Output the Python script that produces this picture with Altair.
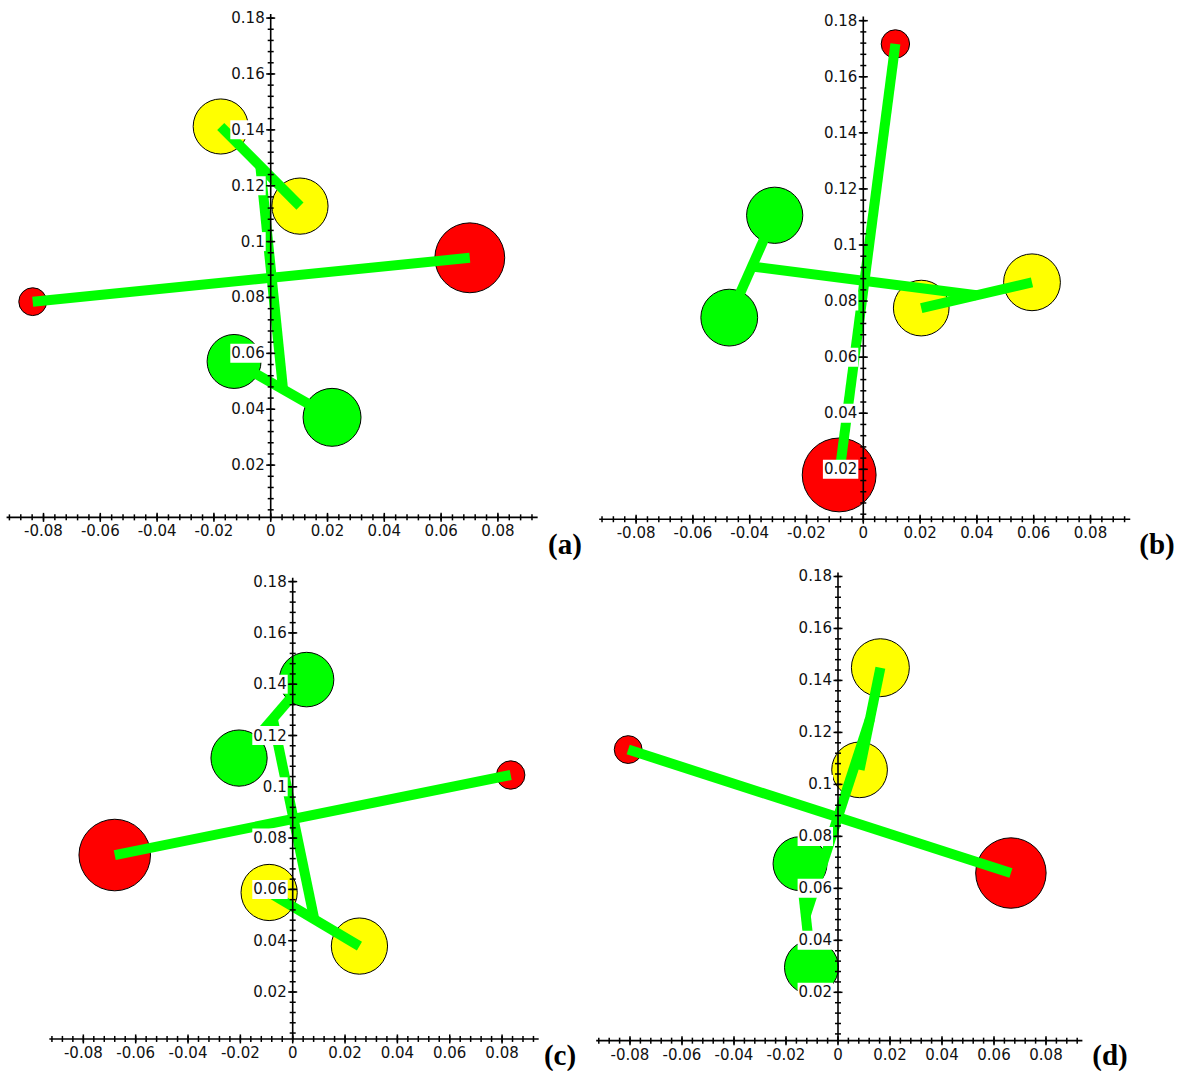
import altair as alt
import pandas as pd

# ---------------- data ----------------
# each panel: six atoms -> [red pair], [pair A], [pair B]
A_cat = ["red", "red", "yellow", "yellow", "green", "green"]
A_x = [-0.0838, 0.0701, -0.0176, 0.0103, -0.0129, 0.0216]
A_y = [0.0785, 0.0942, 0.1412, 0.1127, 0.0571, 0.0371]
A_r = [0.0049, 0.0123, 0.0097, 0.0099, 0.0095, 0.0102]

B_cat = ["red", "red", "green", "green", "yellow", "yellow"]
B_x = [0.0113, -0.0085, -0.0312, -0.0472, 0.0204, 0.0594]
B_y = [0.1717, 0.0180, 0.1106, 0.0741, 0.0775, 0.0867]
B_r = [0.0050, 0.0130, 0.0099, 0.0100, 0.0098, 0.0100]

C_cat = ["red", "red", "green", "green", "yellow", "yellow"]
C_x = [-0.0680, 0.0833, 0.0053, -0.0205, -0.0090, 0.0255]
C_y = [0.0734, 0.1046, 0.1418, 0.1112, 0.0588, 0.0379]
C_r = [0.0126, 0.0050, 0.0096, 0.0099, 0.0099, 0.0099]

D_cat = ["red", "red", "yellow", "yellow", "green", "green"]
D_x = [-0.0807, 0.0665, 0.0163, 0.0083, -0.0146, -0.0102]
D_y = [0.1134, 0.0659, 0.1449, 0.1056, 0.0695, 0.0296]
D_r = [0.0049, 0.0124, 0.0102, 0.0098, 0.0095, 0.0095]

X_TICK_VALUES = [-0.08, -0.06, -0.04, -0.02, 0.0, 0.02, 0.04, 0.06, 0.08]
X_TICK_LABELS = ["-0.08", "-0.06", "-0.04", "-0.02", "0", "0.02", "0.04", "0.06", "0.08"]
Y_TICK_VALUES = [0.02, 0.04, 0.06, 0.08, 0.10, 0.12, 0.14, 0.16, 0.18]
Y_TICK_LABELS = ["0.02", "0.04", "0.06", "0.08", "0.1", "0.12", "0.14", "0.16", "0.18"]
MINOR_STEP = 0.004
X_AXIS_RANGE = [-0.093, 0.094]
Y_AXIS_TOP = 0.1815

COLORS = {"red": "#ff0000", "yellow": "#ffff00", "green": "#00ff00"}
BOND = "#00ff00"
LABEL_FONT = "DejaVu Sans"
LABEL_SIZE = 15


def text_width(s):
    w = 0.0
    for ch in s:
        w += 4.77 if ch == "." else (6.3 if ch == "-" else 9.54)
    return w


def panel(cat, xs, ys, rs, box, origin, k, axis_y, tag, tag_pos):
    left, top, W, H = box
    gx0, gy0 = origin
    kx, ky = k
    lx0, ly0 = gx0 - left, gy0 - top
    xdom = [(0 - lx0) / kx, (W - lx0) / kx]
    ydom = [(ly0 - H) / ky, ly0 / ky]

    def X(f):
        return alt.X(f, type="quantitative", scale=alt.Scale(domain=xdom, nice=False, zero=False), axis=None)

    def Y(f):
        return alt.Y(f, type="quantitative", scale=alt.Scale(domain=ydom, nice=False, zero=False), axis=None)

    atoms = pd.DataFrame({"x": xs, "y": ys, "r": rs, "cat": cat})

    def mid(i, j):
        return ((xs[i] + xs[j]) / 2, (ys[i] + ys[j]) / 2)

    ma, mb = mid(2, 3), mid(4, 5)
    seg = pd.DataFrame({
        "x": [xs[0], xs[2], xs[4], ma[0]],
        "y": [ys[0], ys[2], ys[4], ma[1]],
        "x2": [xs[1], xs[3], xs[5], mb[0]],
        "y2": [ys[1], ys[3], ys[5], mb[1]],
    })

    circles = alt.Chart(atoms).mark_circle(opacity=1, stroke="black", strokeWidth=1).encode(
        x=X("x"), y=Y("y"),
        size=alt.Size("r:Q", scale=alt.Scale(type="pow", exponent=2, domain=[0, 0.01],
                                             range=[0, (0.02 * kx) ** 2]), legend=None),
        color=alt.Color("cat:N", scale=alt.Scale(domain=list(COLORS.keys()),
                                                 range=list(COLORS.values())), legend=None),
    )
    bonds = alt.Chart(seg).mark_rule(color=BOND, strokeWidth=10, strokeCap="butt").encode(
        x=X("x"), y=Y("y"), x2="x2:Q", y2="y2:Q"
    )

    # white boxes behind the y tick labels
    paths = []
    for s in Y_TICK_LABELS:
        w = text_width(s)
        l, r = -(6 + w + 1), -5
        paths.append(f"M{l:.1f},-9.5L{r},-9.5L{r},9.5L{l:.1f},9.5Z")
    ylab = pd.DataFrame({"x": [0.0] * len(Y_TICK_VALUES), "y": Y_TICK_VALUES,
                         "t": Y_TICK_LABELS, "p": paths})
    boxes = alt.Chart(ylab).mark_point(filled=True, color="white", opacity=1, size=4).encode(
        x=X("x"), y=Y("y"), shape=alt.Shape("p:N", scale=None, legend=None)
    )

    axes_df = pd.DataFrame({"x": [X_AXIS_RANGE[0], 0.0], "y": [axis_y, axis_y],
                            "x2": [X_AXIS_RANGE[1], 0.0], "y2": [axis_y, Y_AXIS_TOP]})
    axes = alt.Chart(axes_df).mark_rule(color="black", strokeWidth=1.6).encode(
        x=X("x"), y=Y("y"), x2="x2:Q", y2="y2:Q"
    )

    nx = int(round((0.092 - -0.092) / MINOR_STEP)) + 1
    xt = [round(-0.092 + i * MINOR_STEP, 4) for i in range(nx)]
    ny = int(round(0.18 / MINOR_STEP))
    yt = [round((i + 1) * MINOR_STEP, 4) for i in range(ny)]
    xmaj = pd.DataFrame({"x": X_TICK_VALUES, "y": [axis_y] * len(X_TICK_VALUES)})
    xmin_ = pd.DataFrame({"x": xt, "y": [axis_y] * len(xt)})
    ymaj = pd.DataFrame({"x": [0.0] * len(Y_TICK_VALUES), "y": Y_TICK_VALUES})
    ymin_ = pd.DataFrame({"x": [0.0] * len(yt), "y": yt})

    def xticks(df, half):
        return alt.Chart(df).mark_rule(color="black", strokeWidth=1.5, yOffset=-half, y2Offset=half).encode(
            x=X("x"), y=Y("y"), y2="y:Q")

    def yticks(df, half):
        return alt.Chart(df).mark_rule(color="black", strokeWidth=1.5, xOffset=-half, x2Offset=half).encode(
            x=X("x"), x2="x:Q", y=Y("y"))

    xlab_df = pd.DataFrame({"x": X_TICK_VALUES, "y": [axis_y] * len(X_TICK_VALUES), "t": X_TICK_LABELS})
    xlab = alt.Chart(xlab_df).mark_text(dy=14, font=LABEL_FONT, fontSize=LABEL_SIZE, color="#111",
                                        align="center", baseline="middle").encode(
        x=X("x"), y=Y("y"), text="t:N")
    ylabt = alt.Chart(ylab).mark_text(dx=-6, font=LABEL_FONT, fontSize=LABEL_SIZE, color="#111",
                                      align="right", baseline="middle").encode(
        x=X("x"), y=Y("y"), text="t:N")

    tag_df = pd.DataFrame({"t": [tag]})
    tagc = alt.Chart(tag_df).mark_text(font="Liberation Serif", fontWeight="bold", fontSize=29,
                                       color="black", align="center", baseline="middle").encode(
        x=alt.value(tag_pos[0] - left), y=alt.value(tag_pos[1] - top), text="t:N")

    return alt.layer(circles, bonds, boxes, axes, xticks(xmin_, 3), xticks(xmaj, 4.5),
                     yticks(ymin_, 3), yticks(ymaj, 4.5), xlab, ylabt, tagc).properties(width=W, height=H)


pa = panel(A_cat, A_x, A_y, A_r, (0, 0, 590, 560), (270.7, 521.0), (2840, 2794), 0.0013, "(a)", (565, 545))
pb = panel(B_cat, B_x, B_y, B_r, (590, 0, 593, 560), (863.3, 525.4), (2840, 2804), 0.0022, "(b)", (1157, 545))
pc = panel(C_cat, C_x, C_y, C_r, (0, 560, 590, 506), (292.7, 1043.3), (2617, 2565), 0.0017, "(c)", (560, 1056))
pd_ = panel(D_cat, D_x, D_y, D_r, (590, 560, 593, 506), (838.0, 1044.3), (2600, 2599), 0.0014, "(d)", (1110, 1056))

chart = alt.concat(pa, pb, pc, pd_, columns=2, spacing=0, bounds="flush").properties(
    padding=0).configure_view(stroke=None)

chart.save("out.html", embed_options={"renderer": "svg", "actions": False})
